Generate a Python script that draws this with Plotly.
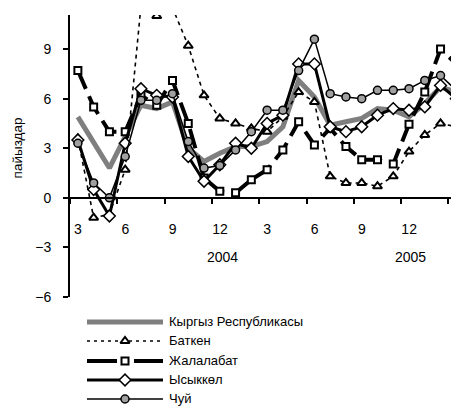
import plotly.graph_objects as go

# monthly figures, Mar 2003 .. Mar 2005 (25 points)
month_labels = ['3', '6', '9', '12', '3', '6', '9', '12', '3']
year_labels = ['2004', '2005']

kyrgyz = [4.9, 3.4, 1.8, 3.7, 5.6, 5.4, 5.8, 3.0, 2.2, 2.7, 3.1, 3.1, 3.4,
          4.3, 7.1, 6.1, 4.4, 4.6, 4.8, 5.4, 5.3, 4.9, 5.7, 6.7, 6.4]
batken = [3.6, -1.2, -1.0, 1.7, 11.6, 11.0, 11.5, 9.2, 6.2, 4.8, 4.5, 4.2, 4.0,
          4.9, 6.4, 5.8, 1.3, 0.9, 0.9, 0.7, 1.3, 2.8, 3.8, 4.5, 4.3]
jalalabat = [7.7, 5.5, 4.0, 4.0, 6.2, 5.6, 7.1, 4.5, 1.2, 0.4, 0.3, 1.1, 1.7,
             2.9, 4.6, 3.2, 4.2, 3.1, 2.3, 2.3, 2.05, 4.45, 6.4, 9.0, 8.1]
issykkul = [3.5, 0.5, -1.1, 3.3, 6.6, 6.2, 6.1, 2.5, 1.0, 2.0, 3.3, 3.0, 4.5,
            5.0, 8.1, 8.1, 4.3, 4.0, 4.3, 5.0, 5.4, 5.3, 5.5, 6.8, 6.0]
chuy = [3.3, 0.9, 0.0, 2.5, 5.9, 5.9, 6.3, 3.4, 1.8, 1.95, 2.9, 4.0, 5.3,
        5.3, 7.7, 9.6, 6.3, 6.1, 6.0, 6.5, 6.5, 6.6, 7.1, 7.4, 6.5]

names = ['Кыргыз Республикасы', 'Баткен', 'Жалалабат', 'Ысыккөл', 'Чуй']

FONT = 'Liberation Sans Narrow, Arial Narrow, Liberation Sans, Arial'
GREY = '#7f7f7f'

styles = [
    dict(mode='lines', line=dict(color=GREY, width=5)),
    dict(mode='lines+markers', line=dict(color='black', width=1.6, dash='4px,4px'),
         marker=dict(symbol='triangle-up', size=8, color='white', line=dict(color='black', width=2))),
    dict(mode='lines+markers', line=dict(color='black', width=4, dash='20px,8px'),
         marker=dict(symbol='square', size=7, color='white', line=dict(color='black', width=2))),
    dict(mode='lines+markers', line=dict(color='black', width=3),
         marker=dict(symbol='diamond', size=9, color='white', line=dict(color='black', width=1.5))),
    dict(mode='lines+markers', line=dict(color='black', width=1.5),
         marker=dict(symbol='circle', size=8, color='#a0a0a0', line=dict(color='black', width=1.5))),
]

x = list(range(len(kyrgyz)))
fig = go.Figure()
for name, ys, st in zip(names, [kyrgyz, batken, jalalabat, issykkul, chuy], styles):
    fig.add_trace(go.Scatter(x=x, y=ys, name=name, showlegend=False, **st))

# hand-made legend (long line samples) in a hidden subplot under the chart
legend_rows = [322, 341, 361, 380, 399]
for name, row, st in zip(names, legend_rows, styles):
    ln = dict(st['line'])
    if name == 'Жалалабат':
        ln['dash'] = '30px,17px'
    if name == 'Баткен':
        ln['dash'] = '3px,4px'
    fig.add_trace(go.Scatter(x=[87, 163], y=[row, row], mode='lines', line=ln,
                             xaxis='x2', yaxis='y2', showlegend=False, hoverinfo='skip'))
    if 'marker' in st:
        fig.add_trace(go.Scatter(x=[125], y=[row], mode='markers', marker=st['marker'],
                                 xaxis='x2', yaxis='y2', showlegend=False, hoverinfo='skip'))
    fig.add_annotation(x=167, y=row, xref='x2', yref='y2', text=name, showarrow=False,
                       xanchor='left', yanchor='middle', font=dict(size=13))

for yr, xpos in zip(year_labels, [9.2, 21.1]):
    fig.add_annotation(x=xpos, y=-3.6, text=yr, showarrow=False, font=dict(size=14))

fig.add_annotation(x=-0.134, y=0.667, xref='paper', yref='paper', text='пайыздар',
                   xanchor='center', yanchor='middle',
                   textangle=-90, showarrow=False, font=dict(size=13.5))

# page has an 8px body margin, so the figure is laid out 8px smaller / shifted
fig.update_layout(
    width=451, height=405,
    margin=dict(l=62, r=0, t=7, b=0),
    plot_bgcolor='white', paper_bgcolor='white',
    font=dict(family=FONT, size=14, color='black'),
    xaxis=dict(range=[-0.5, 24.17], anchor='free', position=0.5402, automargin=False,
               showline=True, linecolor='black', linewidth=2, showgrid=False, zeroline=False,
               tickvals=[-0.5 + 3 * i for i in range(len(month_labels))], ticktext=month_labels,
               ticks='outside', ticklen=5, tickwidth=2, tickcolor='black',
               ticklabelshift=8, ticklabelstandoff=13, ticklabeloverflow='allow'),
    yaxis=dict(domain=[0.2915, 1], range=[-6, 11.06], automargin=False,
               showline=True, linecolor='black', linewidth=2, showgrid=False, zeroline=False,
               tickvals=[-6, -3, 0, 3, 6, 9], ticks='outside', ticklen=5, tickwidth=2,
               tickcolor='black', ticklabelstandoff=9),
    xaxis2=dict(domain=[0, 1], range=[70, 459], anchor='y2', visible=False, automargin=False),
    yaxis2=dict(domain=[0, 0.2789], range=[413, 302], anchor='x2', visible=False, automargin=False),
)

fig.write_html("out.html")
